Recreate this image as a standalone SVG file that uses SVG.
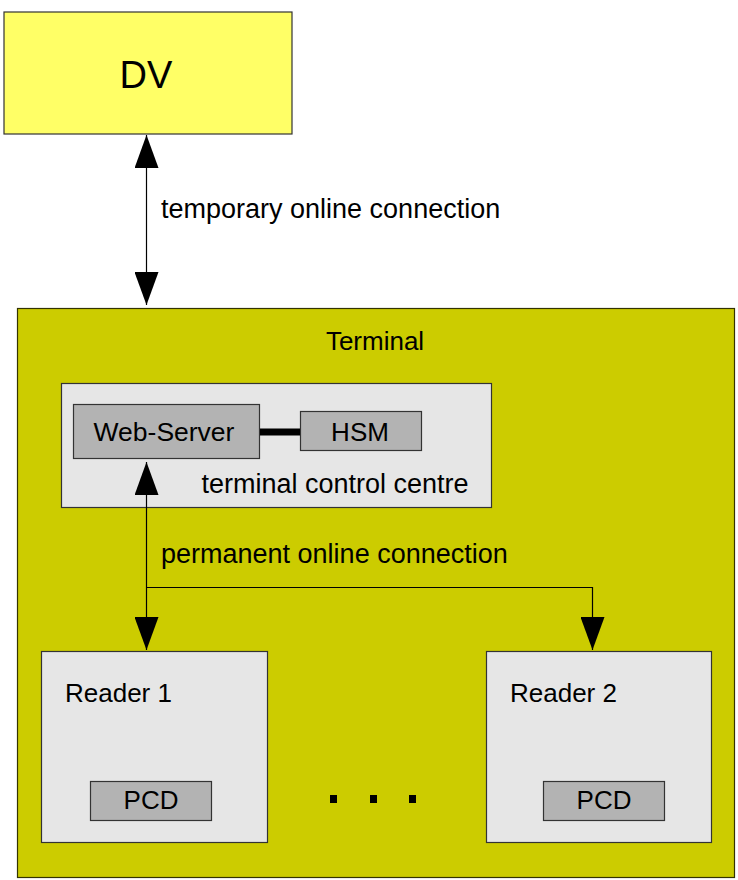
<svg xmlns="http://www.w3.org/2000/svg" width="738" height="880" viewBox="0 0 738 880">
<defs>
<style>
text{font-family:"Liberation Sans",Arial,sans-serif;font-size:26px;fill:#000}
.lbl{font-size:27px}
.box{stroke:#333;stroke-width:1.2}
.light{fill:#e6e6e6}
.mid{fill:#b3b3b3}
.conn{fill:none;stroke:#000;stroke-width:1.2}
</style>
<marker id="ah" viewBox="0 0 33 24" refX="33" refY="12" markerWidth="33" markerHeight="24" markerUnits="userSpaceOnUse" orient="auto-start-reverse">
<path d="M0,0 L33,12 L0,24 z" fill="#000"/>
</marker>
</defs>
<rect width="738" height="880" fill="#fff"/>
<g id="dv">
<rect class="box" x="4" y="12" width="288" height="122" fill="#ffff66"/>
<text x="146" y="88" text-anchor="middle" style="font-size:38px">DV</text>
</g>
<g id="terminal">
<rect x="17.5" y="308.5" width="717" height="569" fill="#cccc00" stroke="#333300" stroke-width="1.2"/>
<text x="375" y="350" text-anchor="middle">Terminal</text>
</g>
<g id="tcc">
<rect class="box light" x="61.5" y="383.5" width="430" height="124"/>
<text class="lbl" x="335" y="493" text-anchor="middle">terminal control centre</text>
</g>
<g id="webserver">
<rect class="box mid" x="73.5" y="404.5" width="186" height="54"/>
<text x="164" y="441" text-anchor="middle" style="font-size:26.5px">Web-Server</text>
</g>
<g id="hsm">
<rect class="box mid" x="300.5" y="411.5" width="121" height="39"/>
<text x="360" y="441" text-anchor="middle">HSM</text>
</g>
<g id="reader1">
<rect class="box light" x="41.5" y="651.5" width="226" height="191"/>
<text x="65" y="702">Reader 1</text>
</g>
<g id="pcd1">
<rect class="box mid" x="90.5" y="781.5" width="121" height="39"/>
<text x="151" y="809" text-anchor="middle">PCD</text>
</g>
<g id="reader2">
<rect class="box light" x="486.5" y="651.5" width="225" height="191"/>
<text x="510" y="702">Reader 2</text>
</g>
<g id="pcd2">
<rect class="box mid" x="543.5" y="781.5" width="121" height="39"/>
<text x="604" y="809" text-anchor="middle">PCD</text>
</g>
<g id="ellipsis" fill="#000">
<rect x="330" y="795" width="7" height="8"/>
<rect x="370" y="795" width="7" height="8"/>
<rect x="409" y="795" width="7" height="8"/>
</g>
<g id="connectors">
<path class="conn" d="M146.5,135 V305" marker-start="url(#ah)" marker-end="url(#ah)"/>
<text class="lbl" x="161" y="218">temporary online connection</text>
<path d="M260,432 H300" stroke="#000" stroke-width="7"/>
<path class="conn" d="M146.5,462 V650" marker-start="url(#ah)" marker-end="url(#ah)"/>
<path class="conn" d="M146.5,587.5 H592.5 V650" marker-end="url(#ah)"/>
<text class="lbl" x="161" y="563">permanent online connection</text>
</g>
</svg>
